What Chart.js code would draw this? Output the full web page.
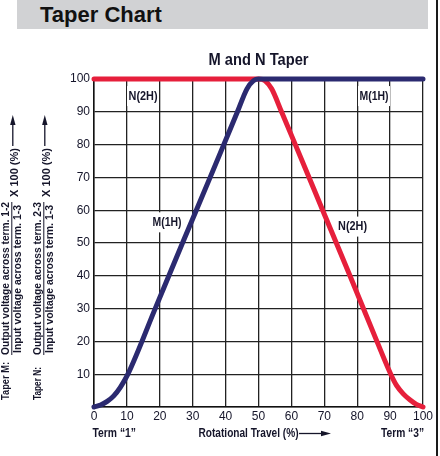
<!DOCTYPE html>
<html>
<head>
<meta charset="utf-8">
<script src="https://cdn.jsdelivr.net/npm/chart.js@4.4.1/dist/chart.umd.min.js"></script>
<style>
  body { margin: 0; background: #fff; }
  #wrap { position: absolute; left: 0; top: 0; width: 440px; height: 456px; }
  #head {
    position: absolute; left: 17px; top: 0; width: 411px; height: 29px;
    background: #d1d2d4; font: bold 22px "Liberation Sans", Arial, sans-serif;
    line-height: 29px; color: #111; padding-left: 23px; box-sizing: border-box;
  }
  #edge { position: absolute; left: 436px; top: 0; width: 2px; height: 456px; background: #1a1a1a; }
</style>
</head>
<body>
<div id="wrap"><canvas id="taperChart"></canvas></div>
<div id="head">Taper Chart</div>
<div id="edge"></div>
<script>
// rotational travel (%) and output (%)
const mTravel = [0, 2, 4, 6, 8, 10.3, 18.6, 26.9, 35.3, 43.6, 46.5, 48.5, 50, 60, 70, 80, 90, 100];
const mOutput = [0, 0.6, 1.7, 3.4, 6, 10, 30, 50, 70, 90, 97, 99.5, 100, 100, 100, 100, 100, 100];
const nTravel = [0, 10, 20, 30, 40, 50, 52, 54, 57, 61.2, 69.5, 77.8, 86, 90.2, 92, 94, 96, 98, 100];
const nOutput = [100, 100, 100, 100, 100, 100, 99.5, 97, 90, 80, 60, 40, 20, 10, 6.5, 4, 2.2, 0.8, 0];
const tickValues = [0, 10, 20, 30, 40, 50, 60, 70, 80, 90, 100];

// curve labels, placed in data units
const curveLabels = ['N(2H)', 'M(1H)', 'M(1H)', 'N(2H)'];
const labelTravel = [14.9, 85.1, 22.2, 78.6];
const labelOutput = [94.8, 94.8, 56.3, 55];

const ink = '#15152a';
const navy = '#2b2a70';
const red = '#e61f3b';

function toPoints(xs, ys) {
    return xs.map((x, i) => ({ x: x, y: ys[i] }));
}

// draw text squeezed to a given width (the source uses a condensed face)
function fitText(ctx, text, x, y, w, font, angle) {
    ctx.save();
    ctx.font = font;
    const tw = ctx.measureText(text).width;
    ctx.translate(x, y);
    if (angle) ctx.rotate(angle);
    ctx.scale(w / tw, 1);
    ctx.textAlign = 'left';
    ctx.textBaseline = 'middle';
    ctx.fillStyle = ink;
    ctx.fillText(text, 0, 0);
    ctx.restore();
}

function arrow(ctx, x1, y1, x2, y2) {
    const a = Math.atan2(y2 - y1, x2 - x1);
    ctx.save();
    ctx.strokeStyle = ink;
    ctx.fillStyle = ink;
    ctx.lineWidth = 1.3;
    ctx.beginPath();
    ctx.moveTo(x1, y1);
    ctx.lineTo(x2 - 6 * Math.cos(a), y2 - 6 * Math.sin(a));
    ctx.stroke();
    ctx.translate(x2, y2);
    ctx.rotate(a);
    ctx.beginPath();
    ctx.moveTo(0, 0);
    ctx.lineTo(-10, -2.7);
    ctx.lineTo(-10, 2.7);
    ctx.closePath();
    ctx.fill();
    ctx.restore();
}

const boxLabels = {
    id: 'boxLabels',
    beforeDatasetsDraw(chart) {
        const ctx = chart.ctx;
        const xs = chart.scales.x, ys = chart.scales.y;
        curveLabels.forEach((t, i) => {
            const cx = xs.getPixelForValue(labelTravel[i]);
            const cy = ys.getPixelForValue(labelOutput[i]);
            const w = 29;
            ctx.fillStyle = '#fff';
            ctx.fillRect(cx - w / 2 - 1.5, cy - 10, w + 3, 20);
            fitText(ctx, t, cx - w / 2, cy, w, 'bold 12.5px "Liberation Sans", Arial, sans-serif');
        });
    }
};

const extraText = {
    id: 'extraText',
    afterDraw(chart) {
        const ctx = chart.ctx;
        const area = chart.chartArea;
        const up = -Math.PI / 2;
        const f10 = 'bold 11px "Liberation Sans", Arial, sans-serif';
        const f12 = 'bold 12.5px "Liberation Sans", Arial, sans-serif';

        // chart title
        const mid = (area.left + area.right) / 2;
        fitText(ctx, 'M and N Taper', mid - 50, 61, 100, 'bold 16px "Liberation Sans", Arial, sans-serif');

        // bottom captions
        fitText(ctx, 'Term \u201c1\u201d', 92.5, 433.5, 43.5, f12);
        fitText(ctx, 'Rotational Travel (%)', 198.5, 433.5, 100, f12);
        arrow(ctx, 299, 433.5, 331, 433.5);
        fitText(ctx, 'Term \u201c3\u201d', 381, 433.5, 43, f12);

        // left side: two stacked ratio captions, read bottom to top
        const groups = [
            { who: 'Taper M:', whoLen: 38, num: 'Output voltage across term. 1-2', dx: 0 },
            { who: 'Taper N:', whoLen: 33, num: 'Output voltage across term. 2-3', dx: 32 }
        ];
        groups.forEach(g => {
            const d = g.dx;
            fitText(ctx, g.who, 6 + d, 400, g.whoLen, f10, up);
            fitText(ctx, g.num, 6 + d, 355, 153, f10, up);
            fitText(ctx, 'Input voltage across term. 1-3', 17.5 + d, 353, 148, f10, up);
            fitText(ctx, 'X 100 (%)', 14.5 + d, 197, 49, f10, up);
            ctx.save();
            ctx.strokeStyle = ink;
            ctx.lineWidth = 1;
            ctx.beginPath();
            ctx.moveTo(11.8 + d, 202);
            ctx.lineTo(11.8 + d, 355);
            ctx.stroke();
            ctx.restore();
            arrow(ctx, 12.8 + d, 146, 12.8 + d, 115);
        });
    }
};

const ctx = document.getElementById('taperChart').getContext('2d');
new Chart(ctx, {
    type: 'line',
    data: {
        datasets: [
            {
                label: 'M',
                data: toPoints(mTravel, mOutput),
                borderColor: navy,
                borderWidth: 5,
                pointRadius: 0,
                cubicInterpolationMode: 'monotone',
                borderCapStyle: 'round',
                clip: false,
            },
            {
                label: 'N',
                data: toPoints(nTravel, nOutput),
                borderColor: red,
                borderWidth: 5,
                pointRadius: 0,
                cubicInterpolationMode: 'monotone',
                borderCapStyle: 'round',
                clip: false,
            },
        ],
    },
    options: {
        responsive: true,
        maintainAspectRatio: false,
        animation: false,
        layout: { padding: { top: 79, right: 17, left: 0, bottom: 0 } },
        plugins: {
            legend: { display: false },
            tooltip: { enabled: false },
            title: { display: false },
        },
        scales: {
            x: {
                type: 'linear',
                min: 0,
                max: 100,
                afterBuildTicks: s => { s.ticks = tickValues.map(v => ({ value: v })); },
                afterFit: s => { s.height = 49; },
                ticks: {
                    padding: 2,
                    color: ink,
                    font: { family: '"Liberation Sans", Arial, sans-serif', size: 12 },
                },
                grid: { color: '#222', lineWidth: 1.3, drawTicks: false },
                border: { color: '#111', width: 1.5 },
            },
            y: {
                type: 'linear',
                min: 0,
                max: 100,
                afterBuildTicks: s => { s.ticks = tickValues.map(v => ({ value: v })); },
                afterFit: s => { s.width = 94; },
                ticks: {
                    padding: 4,
                    color: ink,
                    callback: v => (v === 0 ? '' : v),
                    font: { family: '"Liberation Sans", Arial, sans-serif', size: 12 },
                },
                grid: { color: '#222', lineWidth: 1.3, drawTicks: false },
                border: { color: '#111', width: 1.5 },
            },
        },
    },
    plugins: [boxLabels, extraText],
});
</script>
</body>
</html>
